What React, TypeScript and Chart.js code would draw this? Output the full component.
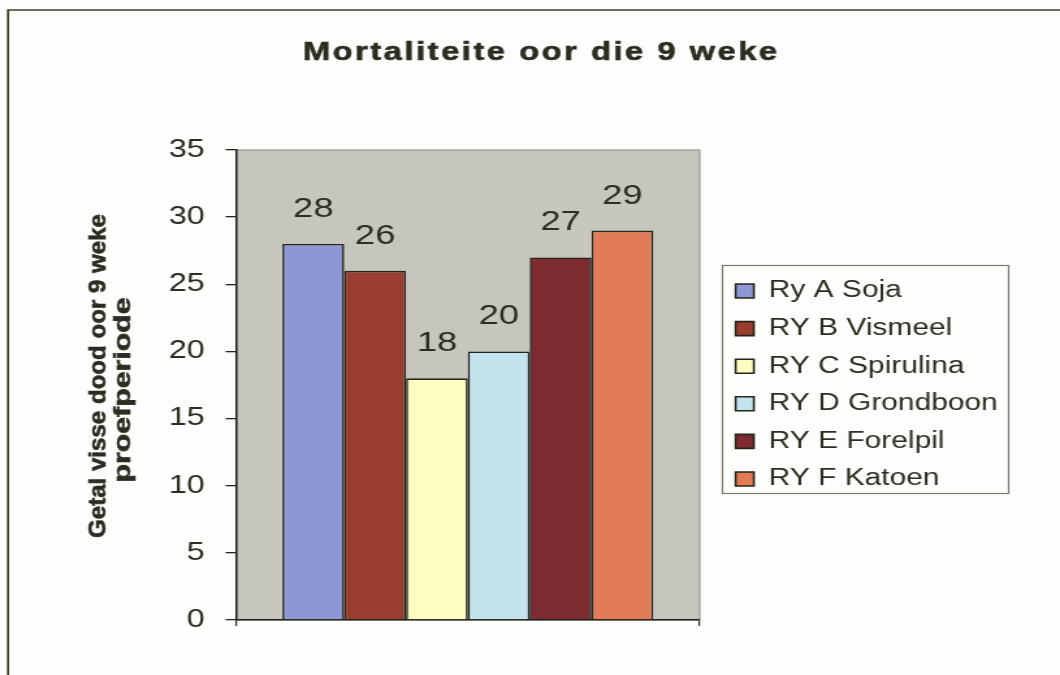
import React, { useEffect, useRef } from 'react';
import { Chart, registerables } from 'chart.js';

Chart.register(...registerables);

// ---- data ----
const categories = ['Mortaliteit'];
const seriesLabels = ['Ry A Soja', 'RY B Vismeel', 'RY C Spirulina', 'RY D Grondboon', 'RY E Forelpil', 'RY F Katoen'];
const seriesValues = [28, 26, 18, 20, 27, 29];
const seriesColors = ['#8e97d4', '#993d30', '#fdfcc2', '#c3e3ee', '#7d2b30', '#e27b57'];
const yTicks = [0, 5, 10, 15, 20, 25, 30, 35];
const chartTitle = 'Mortaliteite oor die 9 weke';
const yTitleLines = ['Getal visse dood oor 9 weke', 'proefperiode'];

// ---- layout / style ----
const CANVAS_W = 815;
const CANVAS_H = 675;
const PAGE_W = 1060;
const SX = PAGE_W / CANVAS_W; // horizontal stretch of the whole picture
const px = (x: number) => x / SX;

const FONT = '"Liberation Sans", Arial, Helvetica, sans-serif';
const TEXT = '#2b2d22';
const DARK = '#25261b';

const yTitleSpec = [
  { x: 99, cy: 376, len: 324 },
  { x: 124, cy: 390, len: 185 },
];

const decorPlugin = {
  id: 'decor',
  beforeDraw(chart: any) {
    const { ctx, chartArea: a } = chart;
    ctx.save();
    // outer frame (left + top only visible)
    ctx.strokeStyle = '#3d3f2c';
    ctx.lineWidth = 1.7;
    ctx.beginPath();
    ctx.moveTo(px(8), chart.height + 5);
    ctx.lineTo(px(8), 10);
    ctx.lineTo(chart.width + 5, 10);
    ctx.stroke();
    // plot area background + frame
    ctx.fillStyle = '#c6c6be';
    ctx.fillRect(a.left, a.top, a.right - a.left, a.bottom - a.top);
    ctx.strokeStyle = '#8a8a80';
    ctx.lineWidth = 1;
    ctx.strokeRect(a.left, a.top, a.right - a.left, a.bottom - a.top);
    // chart title
    ctx.fillStyle = TEXT;
    ctx.strokeStyle = TEXT;
    ctx.lineWidth = 0.6;
    ctx.font = `bold 25px ${FONT}`;
    (ctx as any).letterSpacing = '2px';
    ctx.textAlign = 'center';
    ctx.textBaseline = 'alphabetic';
    ctx.fillText(chartTitle, px(540) + 1, 60);
    ctx.strokeText(chartTitle, px(540) + 1, 60);
    (ctx as any).letterSpacing = '0px';
    // y axis title (two rotated lines)
    ctx.font = `bold 18px ${FONT}`;
    ctx.textBaseline = 'middle';
    ctx.lineWidth = 0.5;
    yTitleLines.forEach((line, i) => {
      const s = yTitleSpec[i];
      ctx.save();
      ctx.translate(px(s.x), s.cy);
      ctx.rotate(-Math.PI / 2);
      const w = ctx.measureText(line).width;
      ctx.scale(s.len / w, 1);
      ctx.fillText(line, 0, 0);
      ctx.strokeText(line, 0, 0);
      ctx.restore();
    });
    ctx.restore();
  },
  afterDatasetsDraw(chart: any) {
    const { ctx } = chart;
    ctx.save();
    ctx.fillStyle = TEXT;
    ctx.font = `28px ${FONT}`;
    ctx.textAlign = 'center';
    ctx.textBaseline = 'alphabetic';
    chart.data.datasets.forEach((ds: any, i: number) => {
      const meta = chart.getDatasetMeta(i);
      meta.data.forEach((bar: any, j: number) => {
        ctx.fillText(String(ds.data[j]), bar.x, bar.y - 27);
      });
    });
    ctx.restore();
  },
  afterDraw(chart: any) {
    const lg = chart.legend;
    if (!lg || !lg.legendHitBoxes || !lg.legendHitBoxes.length) return;
    const hb = lg.legendHitBoxes;
    const { ctx } = chart;
    const top = hb[0].top - 14;
    const last = hb[hb.length - 1];
    const bottom = last.top + last.height + 3;
    const left = lg.left + 4.5;
    const right = lg.left + 224.5;
    ctx.save();
    ctx.strokeStyle = '#7a7a70';
    ctx.lineWidth = 1.2;
    ctx.strokeRect(left, top, right - left, bottom - top);
    ctx.restore();
  },
};

export default function App() {
  const ref = useRef<HTMLCanvasElement | null>(null);

  useEffect(() => {
    if (!ref.current) return;
    const chart = new Chart(ref.current, {
      type: 'bar',
      data: {
        labels: categories,
        datasets: seriesLabels.map((label, i) => ({
          label,
          data: [seriesValues[i]],
          backgroundColor: seriesColors[i],
          borderColor: DARK,
          borderWidth: 1.6,
          categoryPercentage: 0.8,
          barPercentage: 1.0,
        })),
      },
      options: {
        responsive: false,
        animation: false,
        devicePixelRatio: 1,
        layout: { padding: { top: 150, bottom: 49, left: 0, right: 44 } },
        plugins: {
          title: { display: false },
          tooltip: { enabled: false },
          legend: {
            display: true,
            position: 'right',
            align: 'center',
            fullSize: false,
            maxWidth: 220,
            labels: {
              boxWidth: 14,
              boxHeight: 14,
              padding: 14.6,
              color: TEXT,
              font: { family: FONT, size: 23 },
            },
          },
        },
        scales: {
          x: {
            type: 'category',
            offset: true,
            grid: {
              display: true,
              offset: true,
              drawOnChartArea: false,
              drawTicks: true,
              tickLength: 6,
              color: DARK,
              lineWidth: 1.2,
            },
            border: { display: true, color: DARK, width: 1.6 },
            ticks: { display: false },
          },
          y: {
            type: 'linear',
            position: 'left',
            min: 0,
            max: 35,
            afterBuildTicks: (scale: any) => {
              scale.ticks = yTicks.map((v) => ({ value: v }));
            },
            afterFit: (scale: any) => {
              scale.width = px(236);
            },
            grid: {
              display: true,
              drawOnChartArea: false,
              drawTicks: true,
              tickLength: 8,
              color: DARK,
              lineWidth: 1.3,
            },
            border: { display: true, color: DARK, width: 1.6 },
            ticks: {
              padding: 16,
              color: TEXT,
              font: { family: FONT, size: 25 },
            },
          },
          gap: {
            type: 'linear',
            position: 'right',
            display: true,
            grid: { display: false },
            border: { display: false },
            ticks: { display: false },
            afterFit: (scale: any) => {
              scale.width = 13;
            },
          },
        },
      },
      plugins: [decorPlugin],
    } as any);
    return () => chart.destroy();
  }, []);

  return (
    <div style={{ position: 'absolute', left: 0, top: 0, width: PAGE_W, height: CANVAS_H, overflow: 'hidden', background: '#fdfdfb' }}>
      <canvas
        ref={ref}
        width={CANVAS_W}
        height={CANVAS_H}
        style={{ display: 'block', width: `${PAGE_W}px`, height: `${CANVAS_H}px` }}
      />
    </div>
  );
}
